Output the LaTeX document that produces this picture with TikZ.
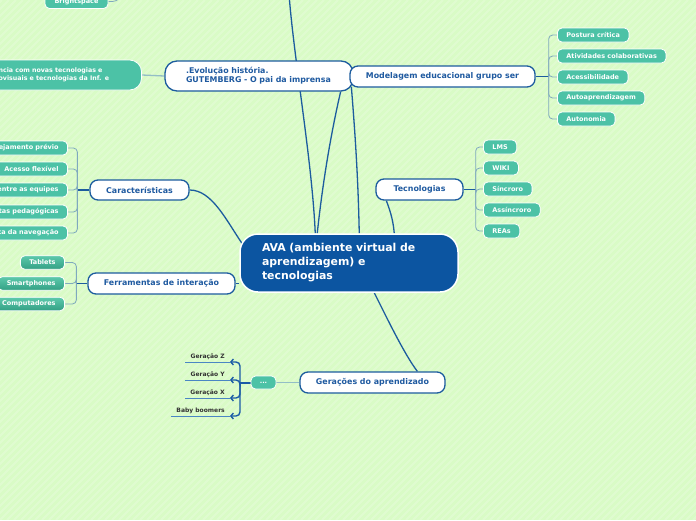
\documentclass[tikz,border=0pt]{standalone}
\usepackage{fontspec}
\setmainfont{DejaVu Sans}
\usetikzlibrary{calc,arrows.meta}
\definecolor{bgc}{HTML}{D9FBC6}
\definecolor{navy}{HTML}{0C55A1}
\definecolor{bline}{HTML}{1C5C9E}
\definecolor{tblue}{HTML}{1F5AA0}
\definecolor{tealc}{HTML}{4CC2A6}
\definecolor{tealtop}{HTML}{5CC9AC}
\definecolor{tealbot}{HTML}{33A084}
\definecolor{leafline}{HTML}{7FA9BE}
\definecolor{graylink}{HTML}{93BEC6}
\definecolor{genblue}{HTML}{1A5AA6}
\definecolor{ulblue}{HTML}{4A86C4}
\definecolor{gentext}{HTML}{333333}
\pgfdeclarelayer{bglayer}
\pgfdeclarelayer{lines}
\pgfsetlayers{bglayer,lines,main}
\begin{document}
\begin{tikzpicture}[x=1pt,y=-1pt,
  topic/.style={draw=bline, line width=1.3pt, fill=white, rounded corners=8pt,
    text=tblue, font=\bfseries\fontsize{7.9}{9.5}\selectfont, inner sep=0pt},
  centre/.style={draw=white, line width=1.5pt, fill=navy, rounded corners=18pt,
    text=white, font=\bfseries\fontsize{10.9}{14}\selectfont, inner ysep=0pt},
  leaf/.style={draw=white, line width=0.8pt, fill=tealc, rounded corners=4.5pt,
    text=white, font=\bfseries\fontsize{6.5}{7}\selectfont, minimum height=14pt,
    inner xsep=9pt, inner ysep=0pt},
  gleaf/.style={leaf, fill=none, top color=tealtop, bottom color=tealbot, minimum height=13.5pt},
  conn/.style={draw=bline, line width=1.3pt},
  stub/.style={draw=bline, line width=1.6pt},
  twig/.style={draw=leafline, line width=0.8pt, rounded corners=4pt},
  glink/.style={draw=graylink, line width=1.3pt},
  genbr/.style={draw=genblue, line width=1.4pt, rounded corners=4pt},
  genlab/.style={text=gentext, font=\bfseries\fontsize{6}{7}\selectfont, inner xsep=5pt, inner ysep=2pt},
  uline/.style={draw=ulblue, line width=0.8pt},
  stripe/.style={draw=white, opacity=0.18, line width=2pt}
]
\useasboundingbox (0,0) rectangle (696,520);
\clip (0,0) rectangle (696,520);
\begin{pgfonlayer}{bglayer}
  \fill[bgc] (0,0) rectangle (696,520);
  \foreach \k in {-525,-518,...,700} \draw[stripe] (\k,520) -- (\k+520,0);
\end{pgfonlayer}

% central node
\node[centre, minimum width=218pt, minimum height=58pt, text width=174pt, inner xsep=22pt, align=left]
  (ava) at (349,263) {AVA (ambiente virtual de\\aprendizagem) e\\tecnologias};

% main topics
\node[topic, minimum width=188pt, minimum height=30pt, text width=146pt, inner xsep=21pt, align=left, rounded corners=12pt,
  font=\bfseries\fontsize{7.9}{9}\selectfont]
  (evo) at (259,76) {.Evolução história.\\GUTEMBERG - O pai da imprensa};
\node[topic, minimum width=185pt, minimum height=21pt] (mod) at (442.5,76.5) {Modelagem educacional grupo ser};
\node[topic, minimum width=87pt, minimum height=21pt] (tec) at (419.5,189.5) {Tecnologias};
\node[topic, minimum width=99pt, minimum height=20pt] (car) at (139.5,190) {Características};
\node[topic, minimum width=147pt, minimum height=21pt] (fer) at (161.5,283.5) {Ferramentas de interação};
\node[topic, minimum width=145pt, minimum height=21pt] (gen) at (372.5,382.5) {Gerações do aprendizado};

% big left leaf
\node[leaf, anchor=east, minimum height=30pt, rounded corners=12pt, inner xsep=0pt, text width=183pt, align=left,
  font=\bfseries\fontsize{6.3}{8.5}\selectfont]
  (lt) at (142,75) {\hspace*{40pt}ncia com novas tecnologias e\\\hspace*{40pt}ovisuais e tecnologias da Inf. e};
% top-left cut leaf
\node[leaf, minimum width=63pt] (bs) at (76.5,1.5) {Brightspace};
\coordinate (bsout) at (128,-10);
\coordinate (topout) at (289,-6);

% Modelagem leaves
\node[leaf, anchor=west] (m1) at (557,35) {Postura crítica};
\node[leaf, anchor=west] (m2) at (557,56) {Atividades colaborativas};
\node[leaf, anchor=west] (m3) at (557,77) {Acessibilidade};
\node[leaf, anchor=west] (m4) at (557,98) {Autoaprendizagem};
\node[leaf, anchor=west] (m5) at (557,119) {Autonomia};

% Tecnologias leaves
\node[leaf, anchor=west] (t1) at (483,147) {LMS};
\node[leaf, anchor=west] (t2) at (483,168) {WIKI};
\node[leaf, anchor=west] (t3) at (483,189) {Síncroro};
\node[leaf, anchor=west] (t4) at (483,210) {Assíncroro};
\node[leaf, anchor=west] (t5) at (483,231) {REAs};

% Caracteristicas leaves
\node[leaf, anchor=east, text width=80pt, align=right] (c1) at (68,148) {ejamento prévio};
\node[leaf, anchor=east, text width=80pt, align=right] (c2) at (68,169) {Acesso flexível};
\node[leaf, anchor=east, text width=80pt, align=right] (c3) at (68,190) {entre as equipes};
\node[leaf, anchor=east, text width=80pt, align=right] (c4) at (68,212) {tas pedagógicas};
\node[leaf, anchor=east, text width=80pt, align=right] (c5) at (68,233) {ca da navegação};

% Ferramentas leaves
\node[gleaf, anchor=east] (f1) at (65,262.5) {Tablets};
\node[gleaf, anchor=east] (f2) at (65,283.5) {Smartphones};
\node[gleaf, anchor=east] (f3) at (65,304) {Computadores};

% Geracoes
\node[leaf, minimum width=25pt, minimum height=13pt, inner xsep=2pt] (dots) at (263.5,382.5) {...};
\node[genlab, anchor=south east] (g1) at (230,362) {Geração Z};
\node[genlab, anchor=south east] (g2) at (230,380) {Geração Y};
\node[genlab, anchor=south east] (g3) at (230,398) {Geração X};
\node[genlab, anchor=south east] (g4) at (230,416) {Baby boomers};

\begin{pgfonlayer}{lines}
  % central connectors
  \draw[conn] ($(ava.north west)+(76,0)$) .. controls (312,160) and (294,60) .. (topout);
  \draw[conn] ($(ava.north west)+(78,0)$) .. controls (324,170) and (334,120) .. ($(evo.south east)+(-13,0)$);
  \draw[conn] ($(ava.north west)+(120,0)$) .. controls (358,170) and (354,120) .. ($(mod.south west)+(2,-1)$);
  \draw[conn] ($(ava.north west)+(155,0)$) .. controls (393,218) and (389,208) .. ($(tec.south west)+(11,0)$);
  \draw[conn] (car.east) .. controls (212,190) and (226,220) .. ($(ava.north west)+(4,12)$);
  \draw[conn] (fer.east) -- (ava.west |- fer.east);
  \draw[conn] ($(ava.south west)+(135,0)$) .. controls (384,312) and (404,354) .. ($(gen.north west)+(118,0)$);
  % grey links
  \draw[glink] (lt.east) -- (evo.west);
  \draw[glink] (dots.east) -- (gen.west);
  \draw[twig] (bs.east) -- ++(8,0) -- (bsout);
  % Modelagem bracket
  \coordinate (mb) at ($(mod.east)+(13,0)$);
  \draw[stub] (mod.east) -- (mb);
  \foreach \n in {m1,m2,m3,m4,m5} \draw[twig] (mb) |- (\n.west);
  % Tecnologias bracket
  \coordinate (tb) at ($(tec.east)+(12,0)$);
  \draw[stub] (tec.east) -- (tb);
  \foreach \n in {t1,t2,t3,t4,t5} \draw[twig] (tb) |- (\n.west);
  % Caracteristicas bracket
  \coordinate (cb) at ($(car.west)+(-12,0)$);
  \draw[stub] (car.west) -- (cb);
  \foreach \n in {c1,c2,c3,c4,c5} \draw[twig] (cb) |- (\n.east);
  % Ferramentas bracket
  \coordinate (fb) at ($(fer.west)+(-11,0)$);
  \draw[stub] (fer.west) -- (fb);
  \foreach \n in {f1,f2,f3} \draw[twig] (fb) |- (\n.east);
  % Geracoes bracket
  \coordinate (gb) at (240,382.5);
  \draw[genbr, line width=2pt] (dots.west) -- (gb);
  \foreach \n in {g1,g2,g3,g4} {
    \draw[genbr, -{Straight Barb[length=2.5pt,width=6pt]}] (gb) |- (\n.south east);
    \draw[uline] (\n.south east) -- (\n.south west);
  }
\end{pgfonlayer}
\end{tikzpicture}
\end{document}
